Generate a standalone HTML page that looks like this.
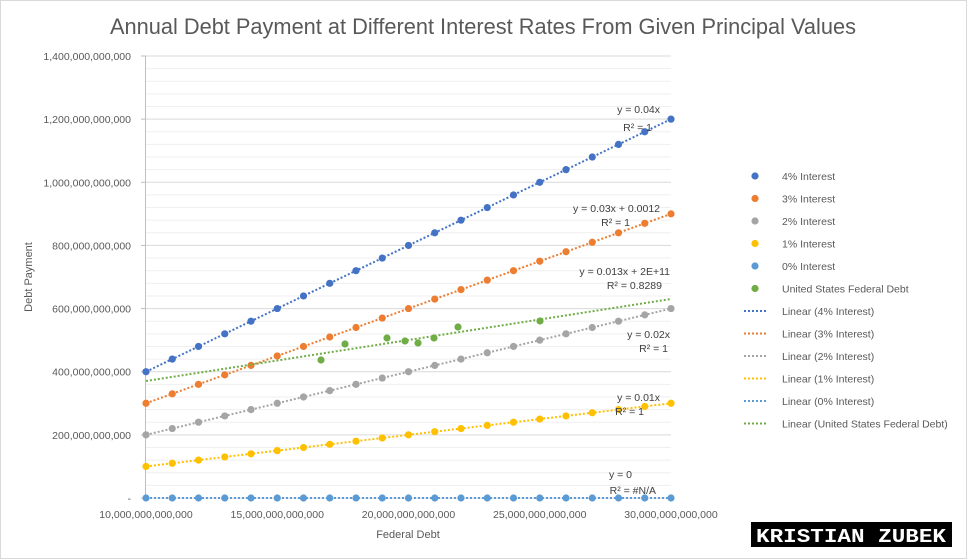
<!DOCTYPE html>
<html><head><meta charset="utf-8"><style>
body{margin:0;background:#fff;}
svg{font-family:"Liberation Sans",sans-serif;display:block}
</style></head><body>
<svg id="s" width="967" height="559" viewBox="0 0 967 559" xmlns="http://www.w3.org/2000/svg">
<rect x="0.5" y="0.5" width="966" height="558" fill="#fff" stroke="#d9d9d9"/>
<text x="483" y="34" font-size="22" fill="#595959" text-anchor="middle" textLength="746" lengthAdjust="spacingAndGlyphs">Annual Debt Payment at Different Interest Rates From Given Principal Values</text>
<g id="grid"></g>
<g id="series"></g>
<text x="32" y="277" font-size="11" fill="#595959" text-anchor="middle" transform="rotate(-90 32 277)">Debt Payment</text>
<text x="408" y="538" font-size="11" fill="#595959" text-anchor="middle">Federal Debt</text>
<g font-size="10.5" fill="#404040" text-anchor="end">
<text x="660" y="113">y = 0.04x</text><text x="652" y="131">R² = 1</text>
<text x="660" y="212">y = 0.03x + 0.0012</text><text x="630" y="226">R² = 1</text>
<text x="670" y="275">y = 0.013x + 2E+11</text><text x="662" y="289">R² = 0.8289</text>
<text x="670" y="338">y = 0.02x</text><text x="668" y="352">R² = 1</text>
<text x="660" y="401">y = 0.01x</text><text x="644" y="415">R² = 1</text>
<text x="632" y="478">y = 0</text><text x="656" y="494">R² = #N/A</text>
</g>
<g id="legend" font-size="10.5" fill="#595959"></g>
<rect x="751" y="522" width="201" height="25" fill="#000"/>
<text x="851" y="542" font-size="19" font-weight="bold" fill="#fff" text-anchor="middle" textLength="190" lengthAdjust="spacingAndGlyphs" font-family="Liberation Mono,monospace">KRISTIAN ZUBEK</text>
</svg>
<script>
const NS="http://www.w3.org/2000/svg";
function el(p,t,a,txt){const e=document.createElementNS(NS,t);for(const k in a)e.setAttribute(k,a[k]);if(txt!==undefined)e.textContent=txt;document.getElementById(p).appendChild(e);return e;}
const X=x=>146+(x-10)*26.25, Y=v=>498-v*0.31571;
for(let v=0;v<=1400;v+=40){const maj=v%200==0;el("grid","line",{x1:146,x2:671,y1:Y(v),y2:Y(v),stroke:maj?"#d9d9d9":"#efefef","stroke-width":1});
if(maj)el("grid","line",{x1:141,x2:146,y1:Y(v),y2:Y(v),stroke:"#bfbfbf","stroke-width":1});}
el("grid","line",{x1:145.5,x2:145.5,y1:56,y2:498,stroke:"#bfbfbf","stroke-width":1});
for(let v=0;v<=1400;v+=200){el("grid","text",{x:131,y:Y(v)+4,"font-size":10.5,fill:"#595959","text-anchor":"end"},v==0?"-":(v*1e9).toLocaleString("en-US"));}
[10,15,20,25,30].forEach(x=>el("grid","text",{x:X(x),y:518,"font-size":10.5,fill:"#595959","text-anchor":"middle"},(x*1e12).toLocaleString("en-US")));
const S=[[40,"#4472c4"],[30,"#ed7d31"],[20,"#a5a5a5"],[10,"#ffc000"],[0,"#5b9bd5"]];
S.forEach(([r,c])=>{el("series","line",{x1:X(10),y1:Y(r*10),x2:X(30),y2:Y(r*30),stroke:c,"stroke-width":2,"stroke-dasharray":"2 2"});
for(let x=10;x<=30;x++)el("series","circle",{cx:X(x),cy:Y(r*x),r:3.6,fill:c});});
el("series","line",{x1:146,y1:381,x2:671,y2:299,stroke:"#70ad47","stroke-width":2,"stroke-dasharray":"2 2"});
[[321,360],[345,344],[387,338],[405,341],[418,343],[434,338],[458,327],[540,321]].forEach(p=>el("series","circle",{cx:p[0],cy:p[1],r:3.6,fill:"#70ad47"}));
const L=[["4% Interest","#4472c4",0],["3% Interest","#ed7d31",0],["2% Interest","#a5a5a5",0],["1% Interest","#ffc000",0],["0% Interest","#5b9bd5",0],["United States Federal Debt","#70ad47",0],
["Linear (4% Interest)","#4472c4",1],["Linear (3% Interest)","#ed7d31",1],["Linear (2% Interest)","#a5a5a5",1],["Linear (1% Interest)","#ffc000",1],["Linear (0% Interest)","#5b9bd5",1],["Linear (United States Federal Debt)","#70ad47",1]];
L.forEach(([t,c,l],i)=>{const y=176+i*22.5;
if(l)el("legend","line",{x1:744,x2:766,y1:y,y2:y,stroke:c,"stroke-width":2,"stroke-dasharray":"2 2"});
else el("legend","circle",{cx:755,cy:y,r:3.6,fill:c});
el("legend","text",{x:782,y:y+4},t);});
</script>
</body></html>
